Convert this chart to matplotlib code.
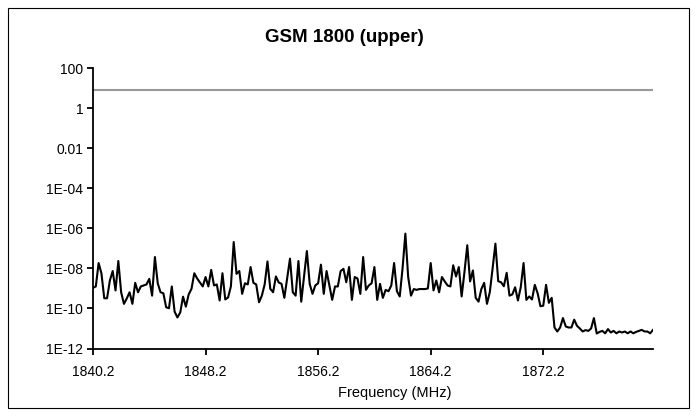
import numpy as numpy
import matplotlib
matplotlib.use( "Agg" )
import matplotlib.pyplot as plt
from matplotlib.patches import Rectangle
from matplotlib.ticker import FixedLocator, FixedFormatter

# categories : 1840.2 ... 1880.0 MHz in 0.2 MHz steps
freqs = numpy.round( 1840.2 + 0.2 * numpy.arange( 200 ), 1 )

level_exp = [
    -8.97, -8.9, -7.73, -8.25, -9.49, -9.49, -8.6, -8.13, -9.1, -7.63,
    -9.19, -9.77, -9.5, -9.19, -9.77, -8.72, -9.19, -8.9, -8.85, -8.8,
    -8.52, -9.36, -7.43, -8.74, -9.19, -9.24, -9.94, -9.99, -8.9, -10.16,
    -10.45, -10.2, -9.41, -9.91, -9.3, -9.02, -8.24, -8.5, -8.7, -8.9,
    -8.43, -8.9, -8.07, -8.85, -8.8, -9.6, -8.24, -9.55, -9.45, -8.9,
    -6.68, -8.27, -8.13, -9.27, -8.74, -8.8, -7.93, -8.72, -8.8, -9.69,
    -9.36, -8.8, -7.65, -9.02, -9.19, -8.4,
    -8.7,
    -8.77, -9.47, -8.5, -7.51, -9.19, -9.36, -7.63, -9.66, -8.4, -7.13,
    -8.77, -9.27, -8.85, -8.74, -7.81, -9.27, -8.13, -8.85, -9.57, -8.9,
    -8.9, -8.13, -8.02, -8.69, -7.93, -9.57, -8.43, -8.5, -9.27, -7.43,
    -9.07, -8.85, -8.74, -7.93, -9.57, -8.77, -9.47, -9.07, -9.14, -8.85,
    -7.73, -9.14, -9.4, -8.0, -6.26,
    -8.43, -9.36, -9.03, -9.07, -9.03, -9.03, -9.03, -9.0, -7.73, -9.1,
    -8.6, -9.19, -8.43, -8.65, -8.85, -8.9, -7.84, -8.4, -7.93, -9.4,
    -8.18, -6.84, -8.65, -8.1, -9.47, -9.66, -9.03,
    -8.72, -9.77, -9.19, -8.0, -6.76, -8.64, -8.69, -8.89, -8.22, -9.36,
    -9.3, -8.94, -9.6, -8.94, -7.73, -9.57, -9.4, -9.55, -8.82, -9.24,
    -9.89, -9.86, -8.82, -9.72, -9.47, -10.95, -11.15, -10.95, -10.48, -10.9,
    -10.95, -10.95, -10.56, -10.87, -11.0, -11.15, -11.08, -11.12, -11.0, -10.48,
    -11.25, -11.17, -11.12, -11.24, -11.03, -11.2, -11.12, -11.24, -11.15, -11.2,
    -11.15, -11.24, -11.15, -11.24, -11.17, -11.12, -11.07, -11.15, -11.15, -11.24,
    -11.07,
]
limit_level = 8.0

ytick_values = [1e-12, 1e-10, 1e-8, 1e-6, 1e-4, 1e-2, 1, 100]
ytick_labels = ["1E-12", "1E-10", "1E-08", "1E-06", "1E-04", "0.01", "1", "100"]
xtick_every = 40

title = "GSM 1800 (upper)"
xlabel = "Frequency (MHz)"

plt.rcParams['font.family'] = ['Liberation Sans', 'DejaVu Sans']

fig = plt.figure( figsize=( 6.97, 4.16 ), dpi=100 )
ax = fig.add_axes( [93 / 697, 1 - 348.5 / 416, 560 / 697, 280.2 / 416] )

idx = numpy.arange( len( freqs ) )
values = 10.0 ** numpy.array( level_exp )

ax.hlines( limit_level, idx[0], idx[-1], colors="#999999", linewidth=1.5 )
ax.plot( idx, values, '-', color="black", linewidth=1.5 )

ax.set_yscale( "log" )
ax.set_ylim( 1e-12, 100 )
ax.set_xlim( idx[0], idx[-1] )

ax.yaxis.set_major_locator( FixedLocator( ytick_values ) )
ax.yaxis.set_major_formatter( FixedFormatter( ytick_labels ) )
ax.yaxis.set_minor_locator( FixedLocator( [] ) )

xt = idx[::xtick_every]
ax.set_xticks( xt )
ax.set_xticklabels( ["%.1f" % freqs[k] for k in xt] )

for side in ["top", "right"] :
    ax.spines[side].set_visible( False )
for side in ["left", "bottom"] :
    ax.spines[side].set_linewidth( 1.3 )

ax.tick_params( axis="both", direction="out", length=4, width=1.3,
                labelsize=10, colors="black" )
ax.tick_params( axis="x", pad=8 )
ax.tick_params( axis="y", pad=3 )

# axis title sits right of the plot centre, as in the original
fig.text( 395 / 697, 1 - 393 / 416, xlabel, ha="center", va="center",
          fontsize=10.5 )
fig.text( 344 / 697, 1 - 38 / 416, title, ha="center", va="center",
          fontsize=13.5, fontweight="bold" )

# chart area border
fig.patches.append( Rectangle( ( 8 / 697, 1 - 408 / 416 ), 681 / 697, 400 / 416,
                    transform=fig.transFigure, fill=False,
                    edgecolor="black", linewidth=0.8 ) )

plt.savefig( "out.png", dpi=100 )
